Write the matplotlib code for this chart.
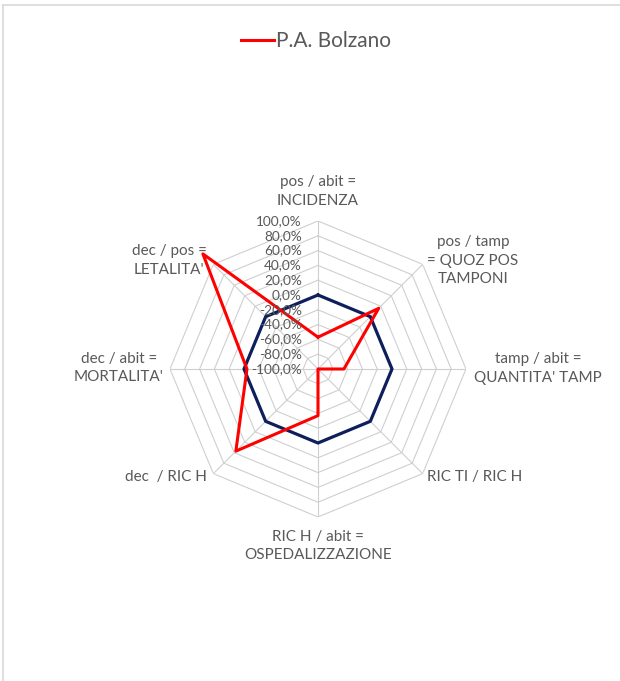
import numpy as np
import matplotlib
matplotlib.use("Agg")
import matplotlib.pyplot as plt
from matplotlib.lines import Line2D
from matplotlib import transforms

plt.rcParams['font.family'] = ['Lato', 'DejaVu Sans']

categories = ["pos / abit =\nINCIDENZA",
              "pos / tamp\n= QUOZ POS\nTAMPONI",
              "tamp / abit =\nQUANTITA' TAMP",
              "RIC TI / RIC H",
              "RIC H / abit =\nOSPEDALIZZAZIONE",
              "dec  / RIC H",
              "dec / abit =\nMORTALITA'",
              "dec / pos =\nLETALITA'"]
bolzano = [-57, 16, -65, -100, -37, 57, -4, 120]
reference = [0, 0, 0, 0, 0, 0, 0, 0]
ticks = [-100, -80, -60, -40, -20, 0, 20, 40, 60, 80, 100]
series_name = "P.A. Bolzano"

W, H = 620, 681
fig = plt.figure(figsize=(W / 100, H / 100), dpi=100)

cx, cy, R = 318, 369, 148
ax = fig.add_axes([(cx - R) / W, (H - cy - R) / H, 2 * R / W, 2 * R / H], projection='polar')
ax.set_theta_zero_location('N')
ax.set_theta_direction(-1)
ax.set_ylim(-100, 100)
ax.grid(False)
ax.spines['polar'].set_visible(False)
ax.set_xticks([])
ax.set_yticks([])
ax.patch.set_visible(False)

n = len(categories)
angles = np.arange(n) * 2 * np.pi / n
closed = np.append(angles, angles[0])

grid_color = '#CFCFCF'
for r in ticks[1:]:
    ax.plot(closed, [r] * (n + 1), color=grid_color, lw=0.8, zorder=1)
for a in angles:
    ax.plot([a, a], [ticks[0], ticks[-1]], color=grid_color, lw=0.8, zorder=1)

ax.plot(closed, reference + reference[:1], color='#0E1F5B', lw=2.3, zorder=3, clip_on=False)
red_line, = ax.plot(closed, bolzano + bolzano[:1], color='#FF0000', lw=2.2, zorder=4,
                    clip_on=False, label=series_name)

text_color = '#595959'
off = transforms.offset_copy(ax.transData, fig=fig, x=-16, y=0, units='dots')
for t in ticks:
    ax.text(0, t, f"{t:.1f}%".replace('.', ','), transform=off, ha='right', va='center',
            fontsize=9.8, color=text_color, zorder=5)

label_pos = [(318, 191.5), (473, 260.5), (538, 368.5), (475, 477),
             (318, 546), (166, 477), (119, 368), (169, 260.5)]
for lab, (px, py) in zip(categories, label_pos):
    fig.text(px / W, 1 - py / H, lab, ha='center', va='center', fontsize=11,
             color=text_color, linespacing=1.45, multialignment='center')

fig.legend(handles=[red_line], loc='center', bbox_to_anchor=(316 / W, 1 - 41 / H),
           frameon=False, fontsize=15, labelcolor=text_color, handlelength=1.6,
           handletextpad=0.12)

bx, by = 2.5 / W, 1 - 4.5 / H
fig.add_artist(Line2D([bx, bx], [0, by], transform=fig.transFigure, color='#D9D9D9', lw=1.2))
fig.add_artist(Line2D([bx, 1], [by, by], transform=fig.transFigure, color='#D9D9D9', lw=1.2))

fig.savefig('out.png', dpi=100)
